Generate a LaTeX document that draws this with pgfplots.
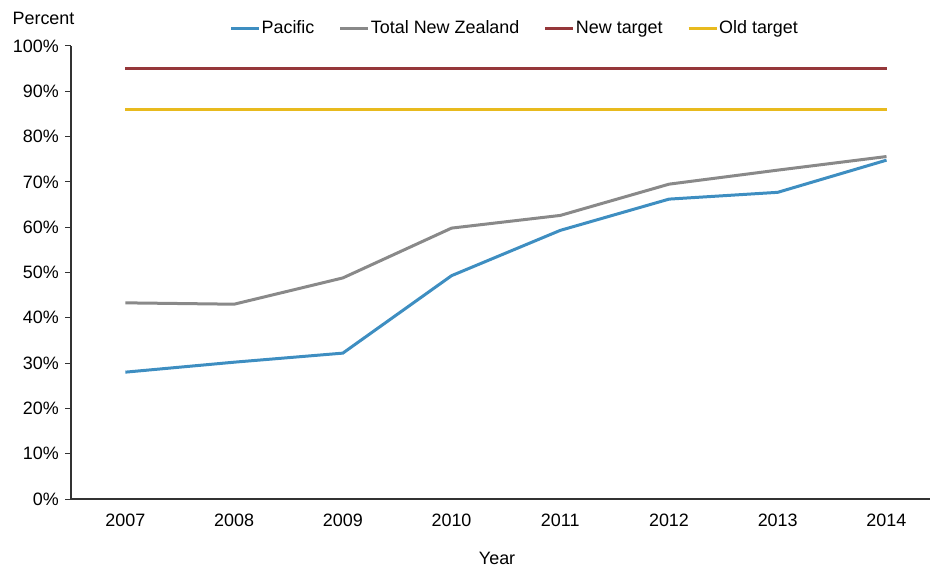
\documentclass[border=0pt]{standalone}
\usepackage{pgfplots}
\pgfplotsset{compat=1.18}
\usepackage{fontspec}
\setmainfont{Liberation Sans}
\definecolor{pac}{RGB}{62,142,193}
\definecolor{nz}{RGB}{137,137,137}
\definecolor{newt}{RGB}{149,55,58}
\definecolor{oldt}{RGB}{232,186,30}
\begin{document}
\fontsize{18}{21}\selectfont
\begin{tikzpicture}
\path[use as bounding box] (0,0) rectangle (933bp,566bp);
\begin{axis}[
  at={(71bp,67bp)}, anchor=south west, scale only axis,
  width=859bp, height=453bp,
  xmin=2006.5, xmax=2014.4, ymin=0, ymax=100,
  axis x line*=bottom, axis y line*=left,
  axis line style={line width=1.2bp, black!80},
  xtick={2007,...,2014},
  xticklabel style={/pgf/number format/1000 sep={}, yshift=-3bp},
  x tick style={draw=none},
  ytick={0,10,...,100},
  y tick style={line width=1bp, black!80},
  tick align=outside, major tick length=6bp,
  yticklabel={\pgfmathprintnumber{\tick}\%},
  /pgf/number format/assume math mode=true,
  xlabel={Year},
  xlabel style={at={(rel axis cs:0.496,0)}, anchor=center, yshift=-59bp},
  legend columns=4,
  legend style={at={(rel axis cs:0.516,1)}, anchor=center, yshift=17bp,
    draw=none, fill=none, inner sep=0pt,
    /tikz/every odd column/.append style={column sep=0bp},
    /tikz/every even column/.append style={column sep=23.5bp},
    nodes={inner xsep=1bp, inner ysep=0pt, text height=13bp, text depth=4bp}},
  legend image code/.code={\draw[#1] (0bp,0bp) -- (28bp,0bp);},
  every axis plot/.append style={line width=3bp},
]
\addplot[pac] coordinates {(2007,28.0) (2008,30.2) (2009,32.2) (2010,49.3) (2011,59.3) (2012,66.2) (2013,67.7) (2014,74.8)};
\addlegendentry{Pacific}
\addplot[nz] coordinates {(2007,43.3) (2008,43.0) (2009,48.8) (2010,59.8) (2011,62.6) (2012,69.5) (2013,72.6) (2014,75.6)};
\addlegendentry{Total New Zealand}
\addplot[newt] coordinates {(2007,95) (2008,95) (2009,95) (2010,95) (2011,95) (2012,95) (2013,95) (2014,95)};
\addlegendentry{New target}
\addplot[oldt] coordinates {(2007,86) (2008,86) (2009,86) (2010,86) (2011,86) (2012,86) (2013,86) (2014,86)};
\addlegendentry{Old target}
\end{axis}
\node at (43.5bp,548bp) {Percent};
\end{tikzpicture}
\end{document}
